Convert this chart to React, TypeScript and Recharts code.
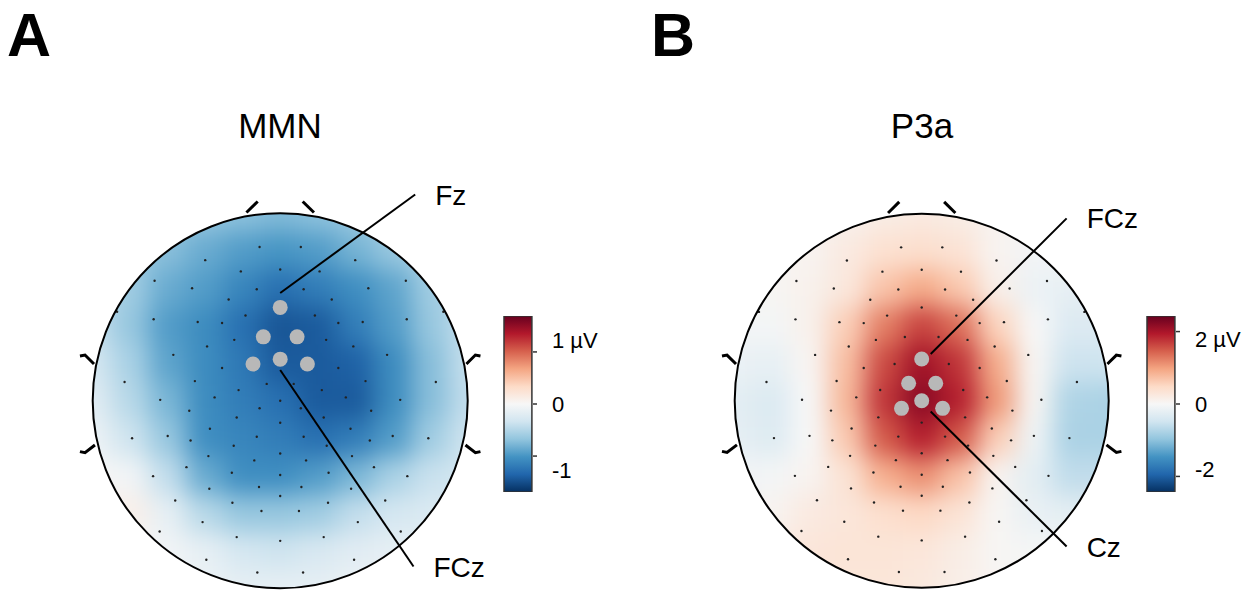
import React from 'react'
import { ScatterChart, Scatter, XAxis, YAxis, BarChart, Bar } from 'recharts'

const PAGE_W = 1248
const PAGE_H = 590
const PANEL_W = 624
const FONT = "'Liberation Sans', Arial, Helvetica, sans-serif"

// sample grid (head units, nose up, radius = 1)
const gridX = [-1, -0.8, -0.6, -0.4, -0.2, 0, 0.2, 0.4, 0.6, 0.8, 1]
const gridY = [1, 0.8, 0.6, 0.4, 0.2, 0, -0.2, -0.4, -0.6, -0.8, -1]

// MMN amplitude (µV), rows top -> bottom
const mmnValues = [
  [-0.5, -0.5, -0.58, -0.65, -0.7, -0.75, -0.7, -0.62, -0.5, -0.45, -0.45],
  [-0.5, -0.6, -0.72, -0.85, -0.95, -1.0, -0.95, -0.8, -0.65, -0.5, -0.45],
  [-0.45, -0.6, -0.85, -0.95, -1.12, -1.28, -1.18, -1.05, -0.9, -0.6, -0.45],
  [-0.4, -0.65, -0.95, -1.07, -1.28, -1.45, -1.42, -1.18, -0.95, -0.65, -0.4],
  [-0.3, -0.55, -0.9, -1.07, -1.22, -1.42, -1.42, -1.38, -1.07, -0.72, -0.4],
  [-0.2, -0.48, -0.78, -1.07, -1.18, -1.28, -1.42, -1.42, -1.07, -0.72, -0.42],
  [-0.1, -0.35, -0.65, -1.05, -1.12, -1.18, -1.28, -1.18, -0.95, -0.6, -0.35],
  [0.0, -0.05, -0.42, -0.85, -1.05, -1.05, -0.95, -0.78, -0.55, -0.38, -0.3],
  [0.1, 0.1, -0.15, -0.48, -0.65, -0.65, -0.6, -0.42, -0.3, -0.25, -0.25],
  [0.05, 0.0, -0.05, -0.15, -0.3, -0.35, -0.28, -0.2, -0.15, -0.15, -0.15],
  [0.0, 0.0, -0.05, -0.1, -0.15, -0.15, -0.15, -0.1, -0.1, -0.1, -0.1],
]

// P3a amplitude (µV), rows top -> bottom
const p3aValues = [
  [0, 0, 0.04, 0.1, 0.18, 0.22, 0.18, 0.07, 0, 0, 0],
  [0.04, 0.04, 0.07, 0.22, 0.38, 0.42, 0.34, 0.07, -0.07, -0.07, -0.07],
  [0.0, 0.04, 0.11, 0.27, 0.7, 0.92, 0.66, 0.14, -0.14, -0.22, -0.22],
  [-0.05, -0.05, 0.11, 0.6, 1.25, 1.65, 1.35, 0.55, 0, -0.35, -0.32],
  [-0.15, -0.2, 0.05, 0.75, 1.6, 2.05, 1.75, 0.9, 0.04, -0.52, -0.5],
  [-0.25, -0.35, 0, 0.8, 1.75, 2.2, 1.9, 1.05, 0.04, -0.75, -0.78],
  [-0.22, -0.32, 0, 0.65, 1.5, 1.9, 1.5, 0.6, -0.11, -0.78, -0.78],
  [-0.08, -0.05, 0.07, 0.35, 0.88, 1.12, 0.72, 0.07, -0.25, -0.62, -0.6],
  [0.04, 0.07, 0.22, 0.29, 0.42, 0.5, 0.34, 0.04, -0.18, -0.25, -0.25],
  [0.14, 0.22, 0.29, 0.32, 0.32, 0.29, 0.18, 0.04, -0.04, -0.07, -0.07],
  [0.2, 0.25, 0.3, 0.3, 0.3, 0.25, 0.15, 0.05, 0, 0, 0],
]

// electrode positions (head units)
const electrodes = [
  [-0.11, 0.82], [0.11, 0.82],
  [-0.4, 0.75], [0.4, 0.75],
  [-0.21, 0.69], [0, 0.7], [0.21, 0.69],
  [-0.67, 0.64], [0.67, 0.64],
  [-0.47, 0.6], [-0.125, 0.595], [0.125, 0.595], [0.47, 0.6],
  [-0.275, 0.54], [0.275, 0.54],
  [0, 0.498],
  [-0.87, 0.475], [0.87, 0.475],
  [-0.675, 0.435], [-0.44, 0.42], [-0.31, 0.415], [-0.185, 0.455], [0.185, 0.455], [0.31, 0.415], [0.44, 0.42], [0.675, 0.435],
  [-0.09, 0.341], [0.09, 0.341],
  [-0.245, 0.325], [0.245, 0.325],
  [-0.57, 0.245], [-0.39, 0.29], [0.39, 0.29], [0.57, 0.245],
  [-0.145, 0.196], [0, 0.222], [0.145, 0.196],
  [-0.31, 0.175], [0.31, 0.175],
  [-0.83, 0.1], [-0.455, 0.105], [-0.072, 0.09], [0.072, 0.09], [0.455, 0.105], [0.83, 0.1],
  [-0.64, 0.005], [-0.35, 0.018], [-0.222, 0.057], [0, 0], [0.222, 0.057], [0.35, 0.018], [0.64, 0.005],
  [-0.485, -0.053], [-0.11, -0.04], [0.11, -0.04], [0.485, -0.053],
  [-0.232, -0.089], [0.232, -0.089],
  [-0.375, -0.149], [0, -0.117], [0.375, -0.149],
  [-0.79, -0.2], [-0.6, -0.188], [-0.478, -0.212], [-0.125, -0.192], [0.125, -0.192], [0.478, -0.212], [0.6, -0.188], [0.79, -0.2],
  [-0.248, -0.24], [0.248, -0.24],
  [-0.383, -0.295], [0, -0.281], [0.383, -0.295],
  [-0.5, -0.354], [-0.138, -0.318], [0.138, -0.318], [0.5, -0.354],
  [-0.678, -0.402], [-0.258, -0.384], [0.258, -0.384], [0.678, -0.402],
  [0, -0.396],
  [-0.378, -0.469], [-0.113, -0.46], [0.113, -0.46], [0.378, -0.469],
  [-0.56, -0.532], [-0.255, -0.544], [0.255, -0.544], [0.56, -0.532],
  [0, -0.508],
  [-0.1, -0.588], [0.1, -0.588],
  [-0.414, -0.647], [0.414, -0.647],
  [-0.643, -0.697], [0.643, -0.697],
  [-0.232, -0.727], [0, -0.747], [0.232, -0.727],
  [-0.394, -0.848], [0.394, -0.848],
  [-0.122, -0.916], [0.122, -0.916],
]

// highlighted electrode clusters
const mmnCluster = [[0, 0.498], [-0.09, 0.341], [0.09, 0.341], [-0.145, 0.196], [0, 0.222], [0.145, 0.196]]
const p3aCluster = [[0, 0.223], [-0.07, 0.093], [0.075, 0.093], [-0.108, -0.041], [0, 0], [0.112, -0.041]]

// leader lines: [label, start, end]
const mmnCallouts: [string, number[], number[]][] = [
  ['Fz', [0, 0.575], [0.72, 1.1]],
  ['FCz', [0, 0.164], [0.711, -0.884]],
]
const p3aCallouts: [string, number[], number[]][] = [
  ['FCz', [0.048, 0.25], [0.775, 0.975]],
  ['Cz', [0.048, -0.058], [0.775, -0.78]],
]

// nose and ear marks
const headMarks = [
  [[-0.18, 1.004], [-0.12, 1.063]],
  [[0.12, 1.063], [0.18, 1.004]],
  [[-1.068, 0.239], [-1.041, 0.244], [-0.993, 0.196]],
  [[-1.068, -0.271], [-1.041, -0.277], [-0.988, -0.236]],
  [[1.068, 0.239], [1.041, 0.244], [0.993, 0.196]],
  [[1.068, -0.271], [1.041, -0.277], [0.988, -0.236]],
]

const rdbu = ['#053061', '#2166ac', '#4393c3', '#92c5de', '#d1e5f0', '#f7f7f7', '#fddbc7', '#f4a582', '#d6604d', '#b2182b', '#67001f']

function hexToRgb(h: string) {
  return [parseInt(h.slice(1, 3), 16), parseInt(h.slice(3, 5), 16), parseInt(h.slice(5, 7), 16)]
}

function colorFor(v: number, max: number) {
  const t = Math.max(0, Math.min(1, (v + max) / (2 * max))) * (rdbu.length - 1)
  const i = Math.min(Math.floor(t), rdbu.length - 2)
  const f = t - i
  const a = hexToRgb(rdbu[i])
  const b = hexToRgb(rdbu[i + 1])
  const c = a.map((ch, k) => Math.round(ch + (b[k] - ch) * f))
  return `rgb(${c[0]},${c[1]},${c[2]})`
}

const toPt = (p: number[]) => ({ x: p[0], y: p[1] })
const Empty = () => <g />

interface TopoProps {
  id: string
  left: number
  cx: number
  cy: number
  r: number
  values: number[][]
  max: number
  cluster: number[][]
  callouts: [string, number[], number[]][]
}

function Topo({ id, left, cx, cy, r, values, max, cluster, callouts }: TopoProps) {
  const xDomain = [-cx / r, (PANEL_W - cx) / r]
  const yDomain = [-(PAGE_H - cy) / r, cy / r]
  const cells: { x: number; y: number; v: number }[] = []
  gridY.forEach((gy, i) => gridX.forEach((gx, j) => cells.push({ x: gx, y: gy, v: values[i][j] })))
  const cell = 0.2 * r

  return (
    <div style={{ position: 'absolute', left, top: 0 }}>
      <svg width={0} height={0} style={{ position: 'absolute' }}>
        <defs>
          <filter id={`blur-${id}`} x="-20%" y="-20%" width="140%" height="140%" colorInterpolationFilters="sRGB">
            <feGaussianBlur stdDeviation={12} />
          </filter>
          <clipPath id={`clip-${id}`}>
            <circle cx={cx} cy={cy} r={r} />
          </clipPath>
        </defs>
      </svg>
      <style>{`.heat-${id} { filter: url(#blur-${id}); clip-path: url(#clip-${id}); }`}</style>
      <ScatterChart width={PANEL_W} height={PAGE_H} margin={{ top: 0, right: 0, bottom: 0, left: 0 }}>
        <XAxis type="number" dataKey="x" domain={xDomain} hide allowDataOverflow />
        <YAxis type="number" dataKey="y" domain={yDomain} hide allowDataOverflow />
        <Scatter
          data={cells}
          className={`heat-${id}`}
          isAnimationActive={false}
          shape={(p: any) => {
            const d = p.payload
            let x0 = p.cx - cell / 2
            let x1 = p.cx + cell / 2
            let y0 = p.cy - cell / 2
            let y1 = p.cy + cell / 2
            if (d.x <= -1) x0 -= cell
            if (d.x >= 1) x1 += cell
            if (d.y >= 1) y0 -= cell
            if (d.y <= -1) y1 += cell
            return <rect x={x0} y={y0} width={x1 - x0 + 0.5} height={y1 - y0 + 0.5} fill={colorFor(d.v, max)} />
          }}
        />
        <Scatter
          data={electrodes.map(toPt)}
          isAnimationActive={false}
          shape={(p: any) => <circle cx={p.cx} cy={p.cy} r={1.2} fill="#222" />}
        />
        <Scatter
          data={cluster.map(toPt)}
          isAnimationActive={false}
          shape={(p: any) => <circle cx={p.cx} cy={p.cy} r={7.5} fill="#b8b8b8" />}
        />
        <Scatter
          data={[{ x: 0, y: 0 }]}
          isAnimationActive={false}
          shape={(p: any) => <circle cx={p.cx} cy={p.cy} r={r} fill="none" stroke="#000" strokeWidth={2} />}
        />
        {headMarks.map((m, i) => (
          <Scatter
            key={`mark-${i}`}
            data={m.map(toPt)}
            line={{ stroke: '#000', strokeWidth: 3 }}
            lineType="joint"
            shape={Empty}
            isAnimationActive={false}
          />
        ))}
        {callouts.map((c, i) => (
          <Scatter
            key={`line-${i}`}
            data={[toPt(c[1]), toPt(c[2])]}
            line={{ stroke: '#000', strokeWidth: 2 }}
            lineType="joint"
            shape={Empty}
            isAnimationActive={false}
          />
        ))}
        <Scatter
          data={callouts.map((c) => ({ x: c[2][0], y: c[2][1], label: c[0] }))}
          isAnimationActive={false}
          shape={(p: any) => (
            <text x={p.cx + 20} y={p.cy + 10} fontSize={28} fontFamily={FONT} fill="#000">
              {p.payload.label}
            </text>
          )}
        />
      </ScatterChart>
    </div>
  )
}

interface ColorBarProps {
  id: string
  left: number
  max: number
  ticks: number[]
  posShift: number
  negShift: number
}

function ColorBar({ id, left, max, ticks, posShift, negShift }: ColorBarProps) {
  const data = [{ name: 'cb', range: [-max, max] }]
  const top = ticks[ticks.length - 1]
  return (
    <div style={{ position: 'absolute', left, top: 316 }}>
      <svg width={0} height={0} style={{ position: 'absolute' }}>
        <defs>
          <linearGradient id={`cbar-${id}`} x1="0" y1="0" x2="0" y2="1">
            {rdbu
              .slice()
              .reverse()
              .map((c, i) => (
                <stop key={i} offset={`${(i / (rdbu.length - 1)) * 100}%`} stopColor={c} />
              ))}
          </linearGradient>
        </defs>
      </svg>
      <BarChart
        width={111}
        height={176}
        data={data}
        margin={{ top: 0, right: 0, bottom: 0, left: 0 }}
        barCategoryGap={0}
        style={{ overflow: 'visible' }}
      >
        <XAxis dataKey="name" hide />
        <Bar
          dataKey="range"
          fill={`url(#cbar-${id})`}
          stroke="#333"
          strokeWidth={1.5}
          barSize={31}
          isAnimationActive={false}
        />
        <YAxis
          orientation="right"
          type="number"
          domain={[-max, max]}
          allowDataOverflow
          ticks={ticks}
          width={80}
          axisLine={false}
          tickLine={false}
          tickMargin={13}
          tick={(p: any) => {
            const v = p.payload.value
            const y = v > 0 ? p.y + posShift : v < 0 ? p.y + negShift : p.y
            return (
              <g>
                <line x1={p.x - 19} x2={p.x - 15} y1={p.y} y2={p.y} stroke="#333" strokeWidth={1.5} />
                <text x={p.x} y={y} dy="0.36em" textAnchor="start" fontSize={22} fontFamily={FONT} fill="#000">
                  {v === top ? `${v} µV` : `${v}`}
                </text>
              </g>
            )
          }}
        />
      </BarChart>
    </div>
  )
}

export default function App() {
  return (
    <div style={{ position: 'absolute', left: 0, top: 0, width: PAGE_W, height: PAGE_H, background: '#fff', overflow: 'hidden' }}>
      <Topo id="a" left={0} cx={280.2} cy={400.8} r={187.5} values={mmnValues} max={1.69} cluster={mmnCluster} callouts={mmnCallouts} />
      <Topo id="b" left={PANEL_W} cx={297.7} cy={400.7} r={187} values={p3aValues} max={2.43} cluster={p3aCluster} callouts={p3aCallouts} />
      <ColorBar id="a" left={502} max={1.69} ticks={[-1, 0, 1]} posShift={-12} negShift={14} />
      <ColorBar id="b" left={1145} max={2.43} ticks={[-2, 0, 2]} posShift={8} negShift={-7} />
      <svg width={PAGE_W} height={PAGE_H} style={{ position: 'absolute', left: 0, top: 0, pointerEvents: 'none' }}>
        <text x={7} y={56} fontSize={61} fontWeight="bold" fontFamily={FONT} fill="#000">A</text>
        <text x={651} y={56} fontSize={61} fontWeight="bold" fontFamily={FONT} fill="#000">B</text>
        <text x={280} y={138} fontSize={35} textAnchor="middle" fontFamily={FONT} fill="#000">MMN</text>
        <text x={922} y={138} fontSize={35} textAnchor="middle" fontFamily={FONT} fill="#000">P3a</text>
      </svg>
    </div>
  )
}
